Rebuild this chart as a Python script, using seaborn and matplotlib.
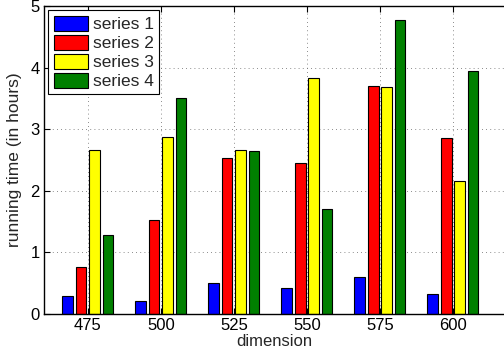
import pandas as pd
import matplotlib.pyplot as plt
import seaborn as sns

# values
dimensions = ['475', '500', '525', '550', '575', '600']
series_1 = [0.29, 0.21, 0.51, 0.42, 0.60, 0.33]
series_2 = [0.76, 1.52, 2.54, 2.45, 3.70, 2.86]
series_3 = [2.66, 2.87, 2.67, 3.83, 3.69, 2.16]
series_4 = [1.29, 3.50, 2.65, 1.71, 4.78, 3.94]
series_names = ['series 1', 'series 2', 'series 3', 'series 4']
colors = ['#0000ff', '#ff0000', '#ffff00', '#008000']

rows = []
for name, vals in zip(series_names, [series_1, series_2, series_3, series_4]):
    for d, v in zip(dimensions, vals):
        rows.append({'dimension': d, 'time': v, 'series': name})
df = pd.DataFrame(rows)

sns.set_style('ticks')
plt.rcParams['font.family'] = ['Liberation Sans', 'DejaVu Sans']
plt.rcParams['font.size'] = 12

fig = plt.figure(figsize=(5.04, 3.55), dpi=100)
ax = fig.add_axes([0.0873, 0.1155, 0.9127, 0.8675])

sns.barplot(data=df, x='dimension', y='time', hue='series', order=dimensions,
            hue_order=series_names, palette=colors, saturation=1,
            width=0.736, gap=0.2, edgecolor='black', linewidth=0.8,
            errorbar=None, ax=ax)

ax.set_xlim(-0.6, 5.7)
ax.set_ylim(0, 5)
ax.set_yticks([0, 1, 2, 3, 4, 5])
ax.grid(True, linestyle=(0, (1, 4)), color='#666666', linewidth=0.6)
ax.set_axisbelow(True)
ax.tick_params(direction='in', top=True, length=4, labelsize=12, colors='black', pad=3)
for side in ['left', 'bottom', 'top']:
    ax.spines[side].set_color('black')
    ax.spines[side].set_linewidth(1.0)
ax.spines['right'].set_visible(False)

ax.set_xlabel('dimension', fontsize=12, labelpad=0.5)
ax.set_ylabel('running time (in hours)', fontsize=12.5, labelpad=6)

ax.legend(loc='upper left', fancybox=False, edgecolor='black', framealpha=1,
          borderaxespad=0.25, handlelength=2.0, handleheight=0.95,
          handletextpad=0.25, labelspacing=0.15, borderpad=0.3, fontsize=12.5)
ax.get_legend().get_frame().set_linewidth(0.8)

fig.savefig('out.png', dpi=100)
